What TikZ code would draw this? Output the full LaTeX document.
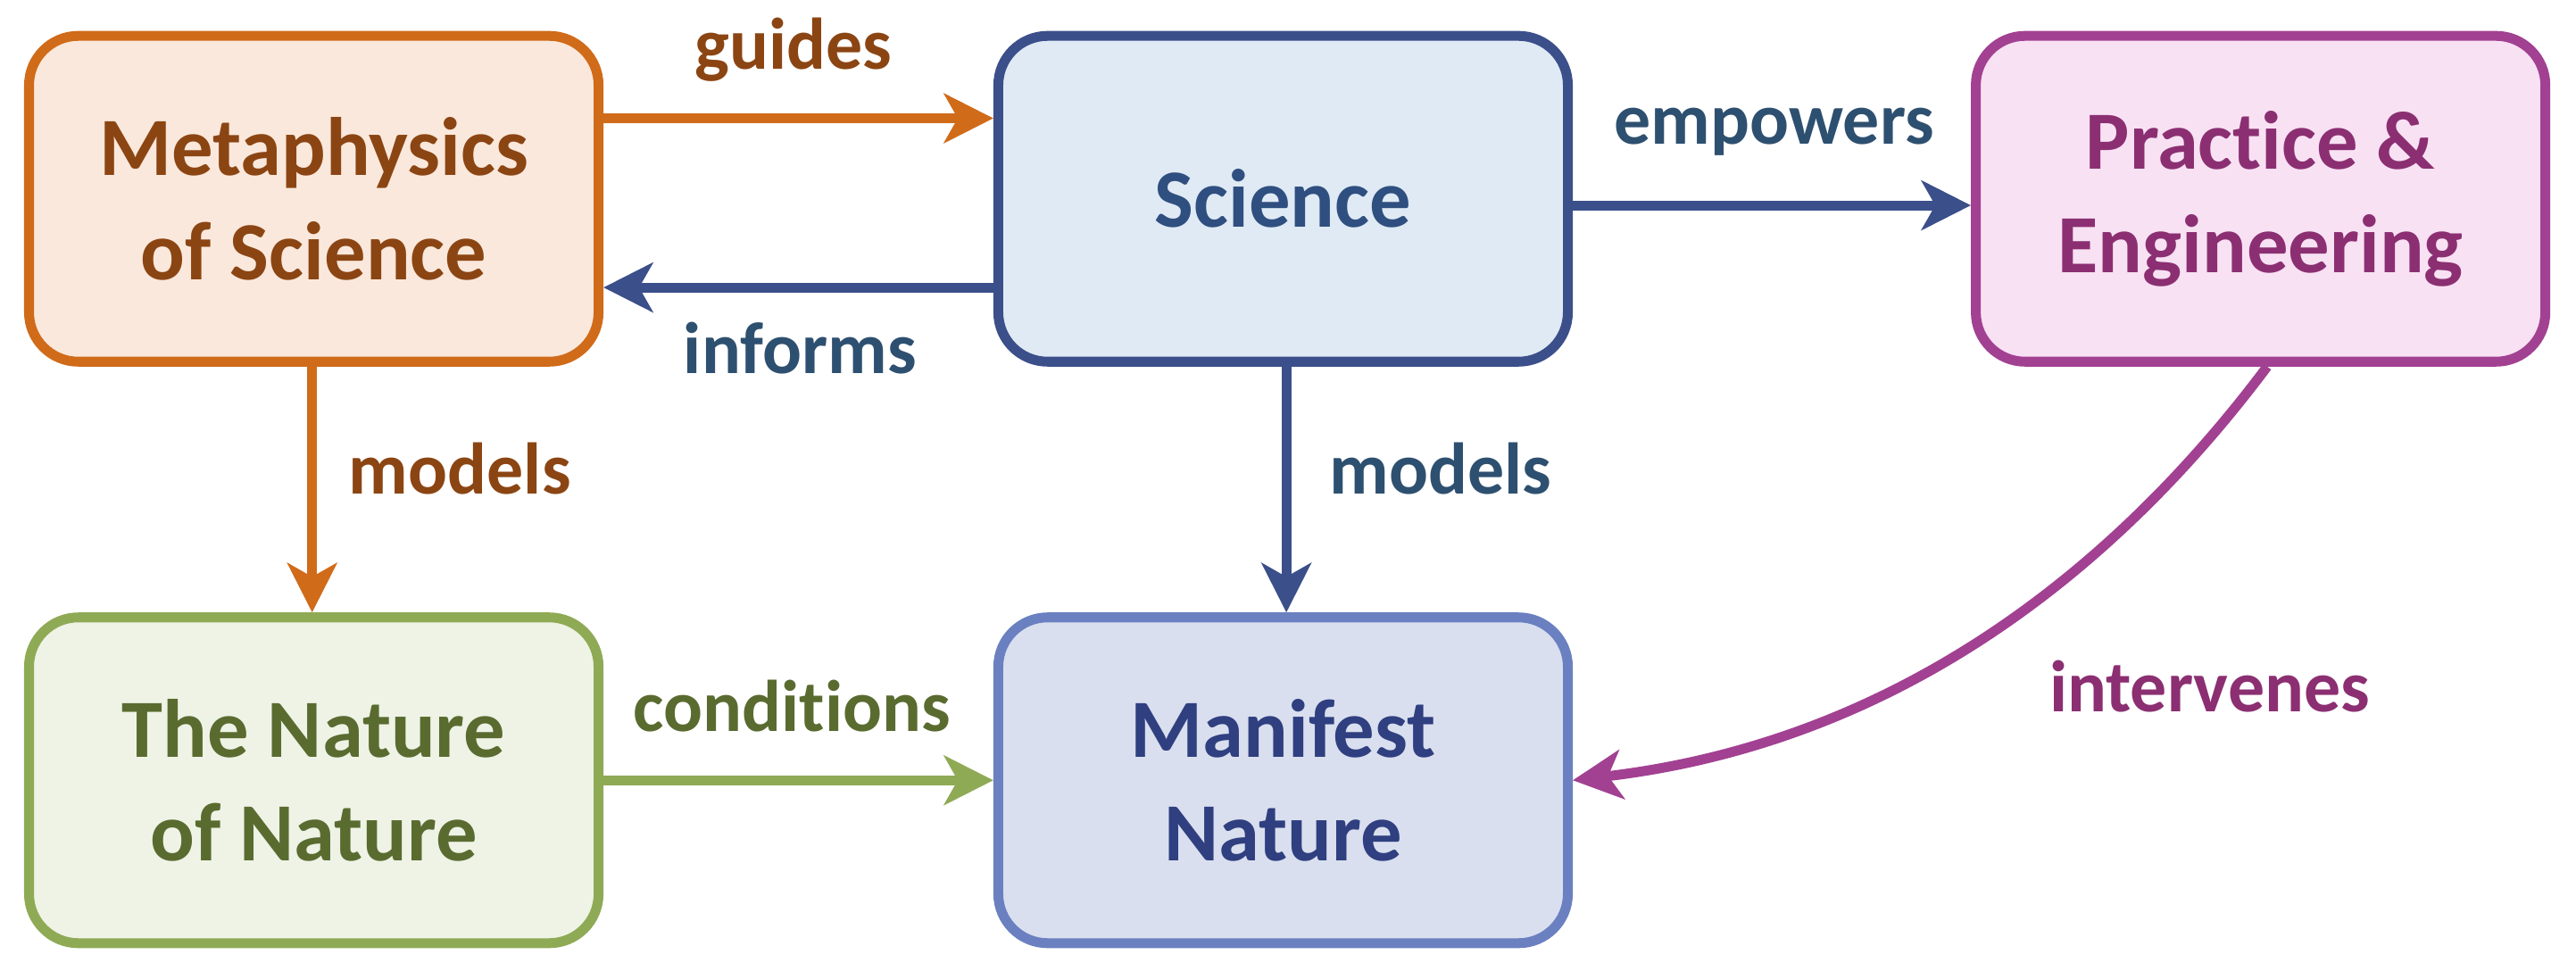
\documentclass[tikz,border=0pt]{standalone}
\usepackage{fontspec}
\setmainfont{Carlito}[Ligatures=NoCommon]
\usetikzlibrary{arrows.meta}
\definecolor{orE}{HTML}{D06B1A}\definecolor{orF}{HTML}{FAE8DC}\definecolor{orT}{HTML}{8B4513}
\definecolor{blE}{HTML}{3B4F8A}\definecolor{blF}{HTML}{DFEAF4}\definecolor{blT}{HTML}{2F4F80}\definecolor{blL}{HTML}{2E5070}
\definecolor{puE}{HTML}{A24192}\definecolor{puF}{HTML}{F8E1F3}\definecolor{puT}{HTML}{8B2F72}
\definecolor{grE}{HTML}{8FAA55}\definecolor{grF}{HTML}{EEF3E6}\definecolor{grT}{HTML}{5A6B30}
\definecolor{mnE}{HTML}{6A80C0}\definecolor{mnF}{HTML}{D9DFEE}\definecolor{mnT}{HTML}{2F3F80}
\begin{document}
\begin{tikzpicture}[x=0.3mm,y=-0.3mm,
 box/.style={draw,line width=1.8mm,rounded corners=9mm,minimum width=104mm,minimum height=59.5mm,align=center,font=\bfseries\fontsize{43}{54}\selectfont,inner sep=0pt},
 arr/.style={line width=1.8mm,-{Stealth[length=9mm,width=9mm,inset=2.5mm]}},
 lab/.style={font=\bfseries\fontsize{38}{44}\selectfont}]
\useasboundingbox (0,0) rectangle (1568,586);
\node[box,draw=orE,fill=orF,text=orT] (meta) at (191,121) {Metaphysics\\of Science};
\node[box,draw=blE,fill=blF,text=blT] (sci) at (781,121) {Science};
\node[box,draw=puE,fill=puF,text=puT] (prac) at (1376,121) {Practice \&\\Engineering};
\node[box,draw=grE,fill=grF,text=grT] (non) at (191,475) {The Nature\\of Nature};
\node[box,draw=mnE,fill=mnF,text=mnT] (man) at (781,475) {Manifest\\Nature};
\draw[arr,orE] (meta.east|-0,72) -- (sci.west|-0,72);
\draw[arr,blE] (sci.west|-0,175) -- (meta.east|-0,175);
\draw[arr,blE] (sci.east|-0,125) -- (prac.west|-0,125);
\draw[arr,orE] (190,0|-meta.south) -- (190,0|-non.north);
\draw[arr,blE] (783,0|-sci.south) -- (783,0|-man.north);
\draw[arr,grE] (non.east|-0,475) -- (man.west|-0,475);
\coordinate (ps) at (1380,0|-prac.south);
\draw[arr,puE] (ps) .. controls (1300,330) and (1170,450) .. (man.east|-0,475);
\node[lab,text=orT] at (483,30) {guides};
\node[lab,text=blL] at (487,212) {informs};
\node[lab,text=blL] at (1080,80) {empowers};
\node[lab,text=orT] at (280,285) {models};
\node[lab,text=blL] at (877,285) {models};
\node[lab,text=grT] at (482,430) {conditions};
\node[lab,text=puT] at (1345,418) {intervenes};
\end{tikzpicture}
\end{document}
